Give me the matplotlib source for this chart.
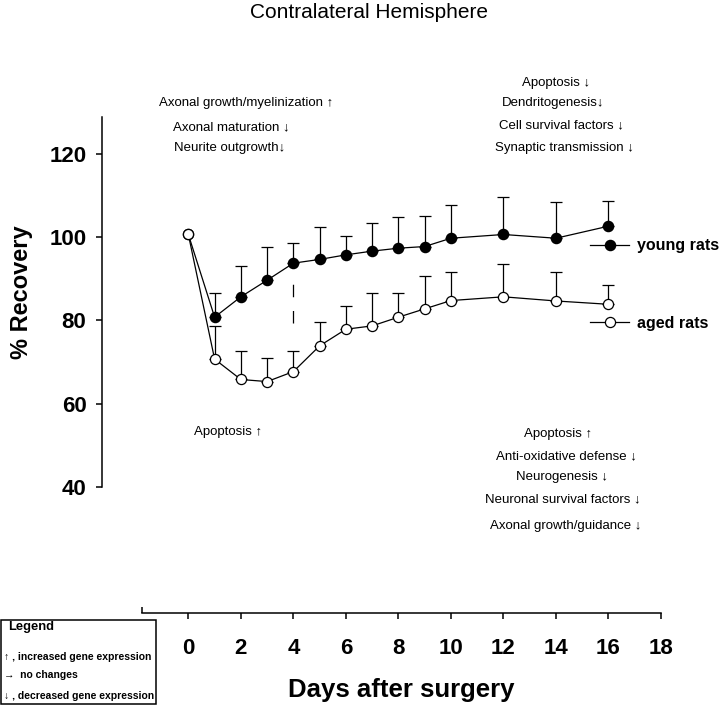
import numpy as np
import matplotlib
matplotlib.use("Agg")
import matplotlib.pyplot as plt
from matplotlib.lines import Line2D
from matplotlib.patches import Rectangle

plt.rcParams["font.family"] = ["Liberation Sans", "DejaVu Sans"]

# data
days = [0, 1, 2, 3, 4, 5, 6, 7, 8, 9, 10, 12, 14, 16]
young = [100.7, 80.8, 85.7, 89.7, 93.8, 94.7, 95.8, 96.7, 97.4, 97.8, 99.8, 100.7, 99.8, 102.7]
young_sd = [0, 5.8, 7.5, 8.0, 4.8, 7.9, 4.5, 6.8, 7.5, 7.4, 7.9, 9.0, 8.6, 6.0]
aged = [100.7, 70.7, 65.8, 65.3, 67.7, 73.9, 77.9, 78.7, 80.8, 82.8, 84.8, 85.7, 84.7, 83.9]
aged_sd = [0, 8.0, 6.9, 5.7, 5.0, 5.8, 5.7, 7.8, 5.8, 8.0, 6.9, 7.9, 7.0, 4.7]
dash_day, dash_lo, dash_hi = 4, 79.3, 89.3

xticks = [0, 2, 4, 6, 8, 10, 12, 14, 16, 18]
yticks = [40, 60, 80, 100, 120]

notes_top_left = ["Axonal growth/myelinization \u2191", "Axonal maturation \u2193", "Neurite outgrowth\u2193"]
notes_top_right = ["Apoptosis \u2193", "Dendritogenesis\u2193", "Cell survival factors \u2193",
                   "Synaptic transmission \u2193"]
notes_bottom_left = ["Apoptosis \u2191"]
notes_bottom_right = ["Apoptosis \u2191", "Anti-oxidative defense \u2193", "Neurogenesis \u2193",
                      "Neuronal survival factors \u2193", "Axonal growth/guidance \u2193"]

W, H = 720, 705


def fp(x, y):
    # figure pixel (from top-left) -> figure fraction
    return x / W, 1 - y / H


fig = plt.figure(figsize=(7.2, 7.05), dpi=100)
ax_l, ax_r, ax_b, ax_t = 101.7, 661, 613, 116.7
ax = fig.add_axes([ax_l / W, 1 - ax_b / H, (ax_r - ax_l) / W, (ax_b - ax_t) / H])
ax.set_xlim(-3.30, 18)
ax.set_ylim(9.6, 129.05)

days = np.array(days)
young, aged = np.array(young), np.array(aged)
young_sd, aged_sd = np.array(young_sd), np.array(aged_sd)
m = young_sd > 0
ax.errorbar(days[m], young[m], yerr=[np.zeros(m.sum()), young_sd[m]], fmt="none",
            ecolor="black", elinewidth=0.9, capsize=4, capthick=0.9, zorder=1)
m = aged_sd > 0
ax.errorbar(days[m], aged[m], yerr=[np.zeros(m.sum()), aged_sd[m]], fmt="none",
            ecolor="black", elinewidth=0.9, capsize=4, capthick=0.9, zorder=1)
ax.plot([dash_day, dash_day], [dash_lo, dash_hi], color="black", lw=0.9, dashes=(10, 11), zorder=1)

ax.plot(days, young, "-o", color="black", lw=0.9, ms=7.3, mfc="black", mec="black", zorder=2)
ax.plot(days, aged, "-o", color="black", lw=0.9, ms=7.3, mfc="white", mec="black", mew=0.9, zorder=3)

for s in ["top", "right"]:
    ax.spines[s].set_visible(False)
ax.spines["left"].set_bounds(40, 129.05)
ax.spines["bottom"].set_bounds(-1.76, 18)
for s in ["left", "bottom"]:
    ax.spines[s].set_linewidth(1.1)

ax.set_xticks(xticks)
ax.set_yticks(yticks)
ax.set_xticks([-1.76, 18], minor=True)
ax.tick_params(axis="x", which="minor", direction="in", length=4, width=1.1)
ax.tick_params(axis="x", which="major", length=4, width=1.1, pad=14, labelsize=16)
ax.tick_params(axis="y", which="major", length=4, width=1.1, pad=7, labelsize=16)
for lab in ax.get_xticklabels() + ax.get_yticklabels():
    lab.set_fontweight("bold")

ax.set_ylabel("% Recovery", fontsize=17, fontweight="bold", va="center")
ax.yaxis.set_label_coords(-0.1425, 0.646)
ax.set_xlabel("Days after surgery", fontsize=18.5, fontweight="bold", va="center")
ax.xaxis.set_label_coords(0.535, -0.155)

fig.text(*fp(369, 12), "Contralateral Hemisphere", fontsize=15, ha="center", va="center")

handles = [Line2D([], [], color="black", lw=0.9, marker="o", ms=7.3, mfc="black"),
           Line2D([], [], color="black", lw=0.9, marker="o", ms=7.3, mfc="white", mew=0.9)]
leg = ax.legend(handles, ["young rats", "aged rats"], loc="center left",
                bbox_to_anchor=fp(582, 284.5), bbox_transform=fig.transFigure,
                frameon=False, borderpad=0, handlelength=2.45, handletextpad=0.5,
                labelspacing=3.9, prop={"weight": "bold", "size": 11.5})

# annotation blocks (x centre, y centre in pixels)
fs = 9.5
for txt, x, y in zip(notes_top_left, [246, 231, 230], [103, 127, 148]):
    fig.text(*fp(x, y), txt, fontsize=fs, ha="center", va="center")
for txt, x, y in zip(notes_top_right, [556, 553.5, 561, 564.7], [83.3, 102.7, 125.7, 148.3]):
    fig.text(*fp(x, y), txt, fontsize=fs, ha="center", va="center")
for txt, x, y in zip(notes_bottom_left, [228.5], [432]):
    fig.text(*fp(x, y), txt, fontsize=fs, ha="center", va="center")
for txt, x, y in zip(notes_bottom_right, [558, 566, 562.5, 563, 566], [434, 456.7, 477.3, 499.3, 526]):
    fig.text(*fp(x, y), txt, fontsize=fs, ha="center", va="center")

# gene-expression key box, bottom left
fig.patches.append(Rectangle(fp(1, 704), 155 / W, 84 / H, transform=fig.transFigure,
                             fill=False, edgecolor="black", lw=1.1))
fig.text(*fp(8.3, 627), "Legend", fontsize=9.3, fontweight="bold", ha="left", va="center")
fig.text(*fp(4, 657.3), "\u2191 , increased gene expression", fontsize=7.5, fontweight="bold",
         ha="left", va="center")
fig.text(*fp(4, 675), "\u2192  no changes", fontsize=7.5, fontweight="bold", ha="left", va="center")
fig.text(*fp(4, 695.7), "\u2193 , decreased gene expression", fontsize=7.5, fontweight="bold",
         ha="left", va="center")

fig.savefig("out.png", dpi=100)
